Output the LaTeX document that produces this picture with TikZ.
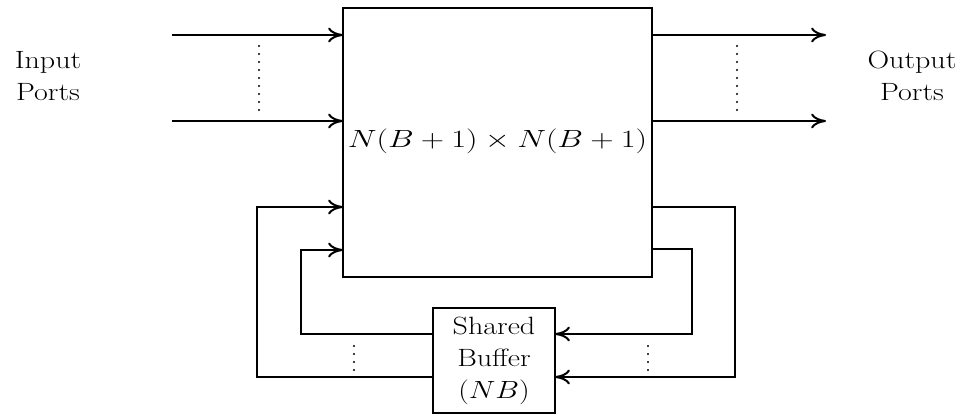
\documentclass[tikz,border=0pt]{standalone}
\usetikzlibrary{arrows.meta}
\begin{document}
\begin{tikzpicture}[x=1pt,y=-1pt,line width=2pt,
  arr/.style={-{To[length=15pt,width=15pt]}},
  lbl/.style={font=\fontsize{25}{32}\selectfont,align=center,inner sep=0pt},
  dotline/.style={line width=2.2pt,line cap=round,dash pattern=on 0pt off 8pt},
  boxnode/.style={draw,inner sep=0pt,outer sep=0pt}]
\useasboundingbox (0,0) rectangle (978,415);
% main switch
\node[boxnode,minimum width=309pt,minimum height=269pt] (sw) at (497.5,142.5) {};
\node[lbl] (fm) at (497.5,141) {\scalebox{1.3}[1]{$N(B+1)\times N(B+1)$}};
% shared buffer
\node[boxnode,minimum width=122pt,minimum height=105pt,font=\fontsize{25}{32}\selectfont] (bf) at (494,360.5)
  {\raisebox{-4pt}{\scalebox{1.2}[1]{\begin{tabular}{@{}c@{}}Shared\\Buffer\\$(NB)$\end{tabular}}}};
% labels
\node[lbl] (inl) at (48,77.6) {\scalebox{1.2}[1]{\begin{tabular}{@{}c@{}}Input\\Ports\end{tabular}}};
\node[lbl] (outl) at (912,77.6) {\scalebox{1.2}[1]{\begin{tabular}{@{}c@{}}Output\\Ports\end{tabular}}};
% input / output ports
\coordinate (i1) at (172,35);
\coordinate (i2) at (172,121);
\coordinate (o1) at (826,35);
\coordinate (o2) at (826,121);
\draw[arr] (i1) -- (sw.west |- i1);
\draw[arr] (i2) -- (sw.west |- i2);
\draw[arr] (sw.east |- o1) -- (o1);
\draw[arr] (sw.east |- o2) -- (o2);
% feedback loops
\coordinate (ro1) at (735,207);
\coordinate (ro2) at (735,377);
\coordinate (ri1) at (692,249);
\coordinate (ri2) at (692,334);
\coordinate (lo1) at (257,377);
\coordinate (lo2) at (257,207);
\coordinate (li1) at (301,334);
\coordinate (li2) at (301,250);
\draw[arr] (sw.east |- ro1) -- (ro1) -- (ro2) -- (bf.east |- ro2);
\draw[arr] (sw.east |- ri1) -- (ri1) -- (ri2) -- (bf.east |- ri2);
\draw[arr] (bf.west |- lo1) -- (lo1) -- (lo2) -- (sw.west |- lo2);
\draw[arr] (bf.west |- li1) -- (li1) -- (li2) -- (sw.west |- li2);
% dots
\coordinate (d1a) at (259,46); \coordinate (d1b) at (259,112);
\coordinate (d2a) at (737,46); \coordinate (d2b) at (737,112);
\coordinate (d3a) at (354,346); \coordinate (d3b) at (354,370);
\coordinate (d4a) at (648,346); \coordinate (d4b) at (648,370);
\draw[dotline] (d1a) -- (d1b);
\draw[dotline] (d2a) -- (d2b);
\draw[dotline] (d3a) -- (d3b);
\draw[dotline] (d4a) -- (d4b);
\end{tikzpicture}
\end{document}
